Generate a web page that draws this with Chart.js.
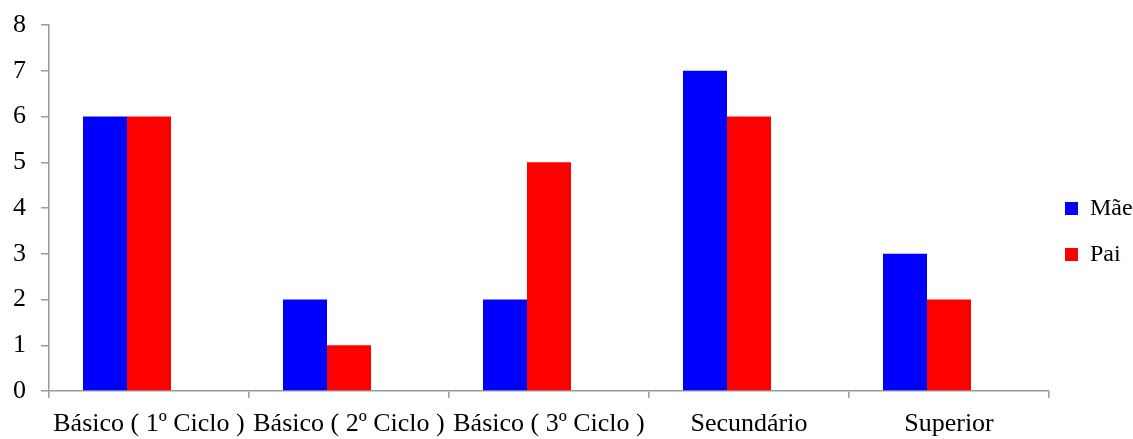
<!DOCTYPE html>
<html>
<head>
<meta charset="utf-8">
<script src="https://cdn.jsdelivr.net/npm/chart.js@4/dist/chart.umd.min.js"></script>
<style>
  html, body { margin: 0; padding: 0; background: #fff; }
  #c { display: block; }
</style>
</head>
<body>
<canvas id="c" width="1133" height="439"></canvas>
<script>
const categories = ['Básico ( 1º Ciclo )', 'Básico ( 2º Ciclo )', 'Básico ( 3º Ciclo )', 'Secundário', 'Superior'];
const seriesNames = ['Mãe', 'Pai'];
const maeValues = [6, 2, 2, 7, 3];
const paiValues = [6, 1, 5, 6, 2];
const emptySeries = [null, null, null, null, null];
const yMin = 0, yMax = 8, yStep = 1;

const FONT = "'Liberation Serif', 'Times New Roman', serif";
Chart.defaults.color = '#000';
const axisColor = '#9a9a9a';

new Chart(document.getElementById('c'), {
  type: 'bar',
  data: {
    labels: categories,
    datasets: [
      { label: seriesNames[0], data: maeValues, backgroundColor: '#0000FF', borderWidth: 0 },
      { label: seriesNames[1], data: paiValues, backgroundColor: '#FF0000', borderWidth: 0 },
      { label: '', data: emptySeries, backgroundColor: 'rgba(0,0,0,0)', borderWidth: 0 }
    ]
  },
  options: {
    responsive: false,
    animation: false,
    devicePixelRatio: 1,
    categoryPercentage: 0.66,
    barPercentage: 1.0,
    layout: { padding: { top: 25, left: 0, right: 0, bottom: 0 } },
    plugins: {
      tooltip: { enabled: false },
      legend: {
        position: 'right',
        align: 'center',
        maxWidth: 84,
        title: { display: true, text: '', padding: 0, font: { size: 5, lineHeight: '5px' } },
        labels: {
          boxWidth: 13,
          boxHeight: 13,
          padding: 16,
          font: { family: FONT, size: 24, lineHeight: '30px' },
          color: '#000',
          generateLabels: (chart) =>
            Chart.defaults.plugins.legend.labels.generateLabels(chart)
              .filter(it => it.datasetIndex < 2)
              .map(it => Object.assign({}, it, { text: [it.text], lineWidth: 0 }))
        }
      }
    },
    scales: {
      x: {
        grid: { display: true, drawOnChartArea: false, drawTicks: true, tickLength: 7, color: axisColor, lineWidth: 1.5, offset: true },
        border: { display: true, color: axisColor, width: 1.5 },
        ticks: { autoSkip: false, maxRotation: 0, minRotation: 0, padding: 11, font: { family: FONT, size: 26 }, color: '#000' },
        afterFit: (s) => { s.height = 48; s.paddingLeft = 0; s.paddingRight = 0; }
      },
      y: {
        min: yMin, max: yMax,
        grid: { display: true, drawOnChartArea: false, drawTicks: true, tickLength: 8, color: axisColor, lineWidth: 1.5 },
        border: { display: true, color: axisColor, width: 1.5 },
        ticks: { stepSize: yStep, padding: 15, font: { family: FONT, size: 26 }, color: '#000' },
        afterFit: (s) => { s.width = 49; s.paddingTop = 0; s.paddingBottom = 0; }
      }
    }
  }
});
</script>
</body>
</html>
